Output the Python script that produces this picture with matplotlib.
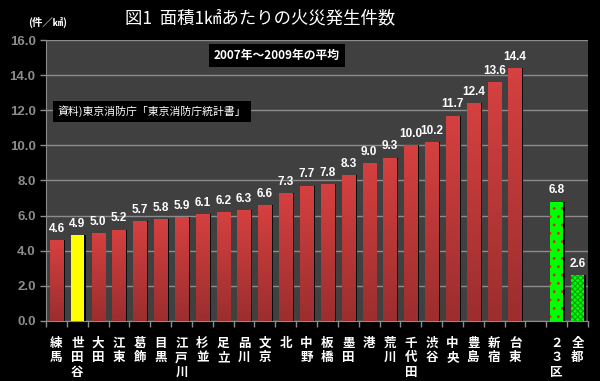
import matplotlib

matplotlib.use("Agg")
import matplotlib.pyplot as plt
import numpy as np
from matplotlib.colors import LinearSegmentedColormap

plt.rcParams["font.family"] = ["Noto Sans CJK JP", "DejaVu Sans"]

# 区別の値 (2007-2009年平均, 件/km2)
WARDS = ["練馬", "世田谷", "大田", "江東", "葛飾", "目黒", "江戸川", "杉並", "足立", "品川",
         "文京", "北", "中野", "板橋", "墨田", "港", "荒川", "千代田", "渋谷", "中央",
         "豊島", "新宿", "台東"]
WARD_VALUES = [4.6, 4.9, 5.0, 5.2, 5.7, 5.8, 5.9, 6.1, 6.2, 6.3,
               6.6, 7.3, 7.7, 7.8, 8.3, 9.0, 9.3, 10.0, 10.2, 11.7,
               12.4, 13.6, 14.4]
TOTALS = ["２３区", "全都"]
TOTAL_VALUES = [6.8, 2.6]
Y_TICKS = [0, 2, 4, 6, 8, 10, 12, 14, 16]

BG = "#000000"
PLOT_BG = "#404040"
GRID = "#8c8c8c"
NUM_FONT = ["Liberation Sans", "DejaVu Sans"]

fig = plt.figure(figsize=(6.0, 3.81), dpi=100, facecolor=BG)
ax = fig.add_axes([0.0767, 0.1575, 0.9033, 0.7375])
ax.set_facecolor(PLOT_BG)

labels = WARDS + [""] + TOTALS
n = len(labels)

width = 0.63
shadow_dx = 0.08

# red gradient for ward bars
grad = np.linspace(0, 1, 64).reshape(-1, 1)
red_cmap = LinearSegmentedColormap.from_list("reds", ["#9c2e2e", "#d54040"])

for i, (name, v) in enumerate(zip(WARDS, WARD_VALUES)):
    ax.bar(i + shadow_dx, v, width=width, color="#000000", zorder=2, linewidth=0)
    if name == "世田谷":
        ax.bar(i, v, width=width, color="#ffff00", zorder=3, linewidth=0)
    else:
        patch = ax.bar(i, v, width=width, color="none", zorder=3, linewidth=0)[0]
        im = ax.imshow(grad, cmap=red_cmap, aspect="auto", origin="lower",
                       extent=[i - width / 2, i + width / 2, 0, v], zorder=3)
        im.set_clip_path(patch)
    ax.text(i, v + 0.3, f"{v:.1f}", ha="center", va="bottom", color="white",
            fontsize=8.5, fontweight="bold", family=NUM_FONT, zorder=4)

plt.rcParams["hatch.linewidth"] = 0.8
hatches = ["..", "xxxxxx"]
hatch_colors = ["#e02020", "#00a000"]
for k, (name, v) in enumerate(zip(TOTALS, TOTAL_VALUES)):
    i = len(WARDS) + 1 + k
    ax.bar(i + shadow_dx, v, width=width, color="#000000", zorder=2, linewidth=0)
    ax.bar(i, v, width=width, color="#00ff00", hatch=hatches[k],
           edgecolor=hatch_colors[k], linewidth=0, zorder=3)
    ax.text(i, v + 0.3, f"{v:.1f}", ha="center", va="bottom", color="white",
            fontsize=8.5, fontweight="bold", family=NUM_FONT, zorder=4)

ax.set_xlim(-0.5, n - 0.5)
ax.set_ylim(0, 16)

# grid and axes
ax.set_yticks(Y_TICKS)
ax.set_yticklabels([f"{t:.1f}" for t in Y_TICKS], color="white", fontsize=9.5,
                   fontweight="bold", family=NUM_FONT)
ax.yaxis.grid(True, color=GRID, linewidth=1.0, zorder=1)
ax.set_axisbelow(True)
ax.set_xticks(np.arange(-0.5, n, 1.0))
ax.set_xticklabels([])
ax.tick_params(axis="both", colors=GRID, length=4, width=1, direction="out")
for side in ["top", "right"]:
    ax.spines[side].set_visible(False)
for side in ["left", "bottom"]:
    ax.spines[side].set_color(GRID)

# vertical category labels under the axis
for i, name in enumerate(labels):
    if not name:
        continue
    ax.text(i, -0.9, "\n".join(name), ha="center", va="top", color="white",
            fontsize=9, fontweight="bold", linespacing=1.15)

# titles and notes
fig.text(0.433, 0.953, "図1  面積1㎢あたりの火災発生件数", ha="center", va="center",
         color="white", fontsize=12.5)
fig.text(0.08, 0.942, "(件／㎢)", ha="center", va="center", color="white",
         fontsize=7.5, fontweight="bold")
ax.text(0.426, 0.945, "2007年～2009年の平均", transform=ax.transAxes, ha="center",
        va="center", color="white", fontsize=8.5, fontweight="bold", zorder=5,
        bbox=dict(boxstyle="square,pad=0.45", facecolor="black", edgecolor="none"))
ax.text(0.022, 0.746, "資料)東京消防庁「東京消防庁統計書」", transform=ax.transAxes,
        ha="left", va="center", color="white", fontsize=7.8, zorder=5,
        bbox=dict(boxstyle="square,pad=0.45", facecolor="black", edgecolor="none"))

fig.savefig("out.png", dpi=100, facecolor=BG)
